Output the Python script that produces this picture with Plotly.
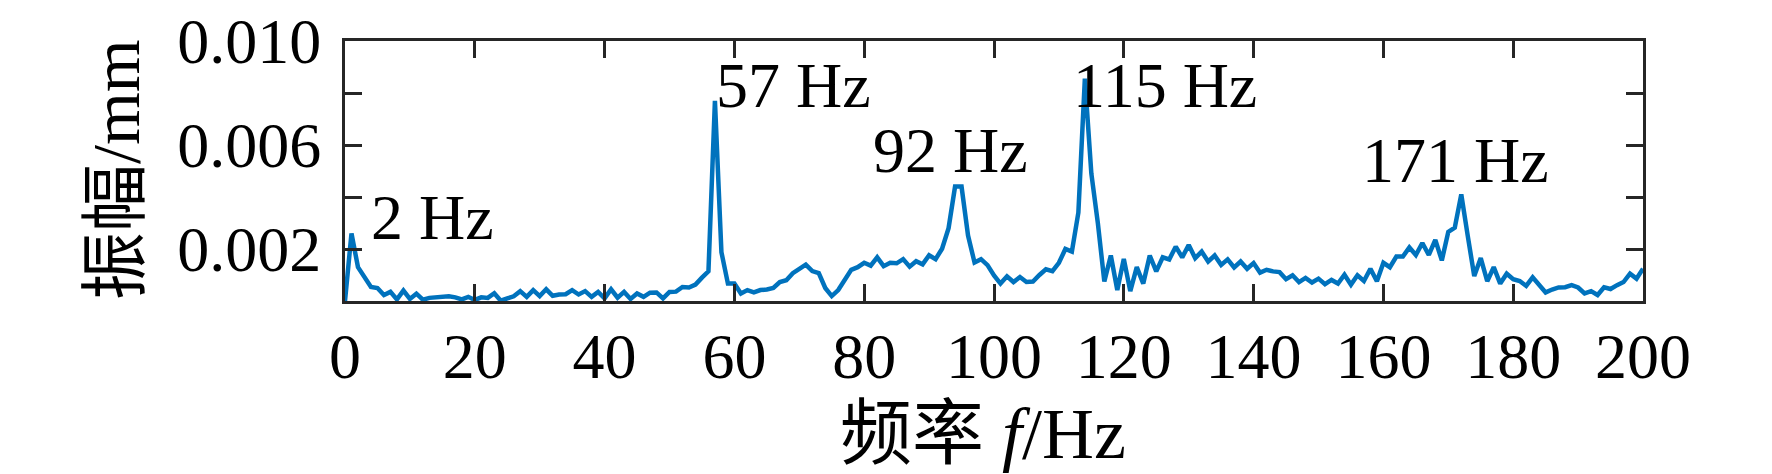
import plotly.graph_objects as go

freq_hz = list(range(0, 201))

amp_0_57 = [0.0, 2.6, 1.3, 0.92, 0.54, 0.5, 0.23, 0.35, 0.06, 0.4,
            0.08, 0.28, 0.05, 0.12, 0.15, 0.17, 0.18, 0.14, 0.06, 0.16,
            0.04, 0.14, 0.12, 0.3, 0.01, 0.1, 0.18, 0.38, 0.16, 0.42,
            0.19, 0.45, 0.2, 0.25, 0.26, 0.42, 0.25, 0.38, 0.16, 0.35,
            0.1, 0.45, 0.13, 0.35, 0.08, 0.29, 0.16, 0.32, 0.33, 0.1,
            0.35, 0.36, 0.54, 0.52, 0.63, 0.9, 1.14, 7.7]
amp_58_100 = [1.88, 0.67, 0.67, 0.29, 0.42, 0.33, 0.42, 0.44, 0.5, 0.73,
              0.8, 1.07, 1.24, 1.4, 1.15, 1.07, 0.5, 0.19, 0.42, 0.8,
              1.2, 1.3, 1.47, 1.36, 1.68, 1.34, 1.47, 1.45, 1.61, 1.32,
              1.53, 1.41, 1.76, 1.61, 2.01, 2.8, 4.4, 4.4, 2.52, 1.48,
              1.61, 1.38, 0.98]
amp_101_150 = [0.67, 0.95, 0.73, 0.92, 0.73, 0.75, 1.0, 1.22, 1.15, 1.47,
               2.0, 1.9, 3.4, 8.55, 4.9, 3.0, 0.75, 1.75, 0.42, 1.62,
               0.38, 1.3, 0.67, 1.75, 1.14, 1.68, 1.6, 2.09, 1.68, 2.15,
               1.65, 1.9, 1.52, 1.75, 1.39, 1.6, 1.29, 1.52, 1.24, 1.46,
               1.09, 1.2, 1.14, 1.11, 0.84, 0.99, 0.73, 0.89, 0.71, 0.86]
amp_151_200 = [0.65, 0.81, 0.67, 1.01, 0.63, 0.99, 0.77, 1.24, 0.76, 1.47,
               1.3, 1.71, 1.71, 2.06, 1.77, 2.23, 1.77, 2.35, 1.56, 2.66,
               2.82, 4.1, 2.5, 0.96, 1.65, 0.76, 1.3, 0.67, 1.05, 0.84,
               0.77, 0.58, 0.91, 0.61, 0.33, 0.44, 0.52, 0.53, 0.61, 0.52,
               0.29, 0.38, 0.23, 0.53, 0.46, 0.61, 0.73, 1.05, 0.86, 1.24]

amp_mm = [v / 1000.0 for v in (amp_0_57 + amp_58_100 + amp_101_150 + amp_151_200)]

x_ticks = list(range(0, 201, 20))
y_ticks = [0.002, 0.004, 0.006, 0.008, 0.010]
y_tick_text = ["0.002", "", "0.006", "", "0.010"]

peak_labels = ["2 Hz", "57 Hz", "92 Hz", "115 Hz", "171 Hz"]
peak_label_x = [3.7, 56.9, 81.0, 111.9, 156.4]
peak_label_y = [0.00320, 0.00830, 0.00577, 0.00830, 0.00541]

x_title = "频率 <i>f</i>/Hz"
y_title = "振幅/mm"

serif = "Liberation Serif, Times New Roman, Noto Sans CJK SC, serif"
axis_col = "#262626"

fig = go.Figure()
fig.add_trace(go.Scatter(x=freq_hz, y=amp_mm, mode="lines",
                         line=dict(color="#0072BD", width=4.5),
                         showlegend=False, hoverinfo="skip"))

for t, ax, ay in zip(peak_labels, peak_label_x, peak_label_y):
    fig.add_annotation(x=ax, y=ay, text=t, showarrow=False,
                       xanchor="left", yanchor="middle",
                       font=dict(family=serif, size=64, color="black"))

fig.add_annotation(x=0.5, y=0, xref="paper", yref="paper", text=x_title,
                   showarrow=False, xanchor="center", yanchor="middle",
                   xshift=-11, yshift=-133,
                   font=dict(family=serif, size=72, color="black"))
fig.add_annotation(x=0, y=0.5, xref="paper", yref="paper", text=y_title,
                   showarrow=False, xanchor="center", yanchor="middle",
                   textangle=-90, xshift=-229, yshift=1,
                   font=dict(family=serif, size=68, color="black"))

fig.update_layout(
    width=1772, height=474,
    margin=dict(l=337, r=137, t=33, b=181, autoexpand=False),
    paper_bgcolor="white", plot_bgcolor="white",
    font=dict(family=serif, size=64, color="black"),
)
fig.update_xaxes(range=[0, 200], tickvals=x_ticks, ticks="inside", ticklen=17,
                 tickwidth=3, tickcolor=axis_col, showline=True, linewidth=3,
                 linecolor=axis_col, mirror="ticks", showgrid=False, zeroline=False,
                 tickfont=dict(family=serif, size=64, color="black"),
                 ticklabelstandoff=-3, ticklabeloverflow="allow", automargin=False)
fig.update_yaxes(range=[0, 0.010], tickvals=y_ticks, ticktext=y_tick_text,
                 ticks="inside", ticklen=17, tickwidth=3, tickcolor=axis_col,
                 showline=True, linewidth=3, linecolor=axis_col, mirror="ticks",
                 showgrid=False, zeroline=False,
                 tickfont=dict(family=serif, size=64, color="black"),
                 ticklabelstandoff=8, ticklabeloverflow="allow", automargin=False)

fig.write_html("out.html")
